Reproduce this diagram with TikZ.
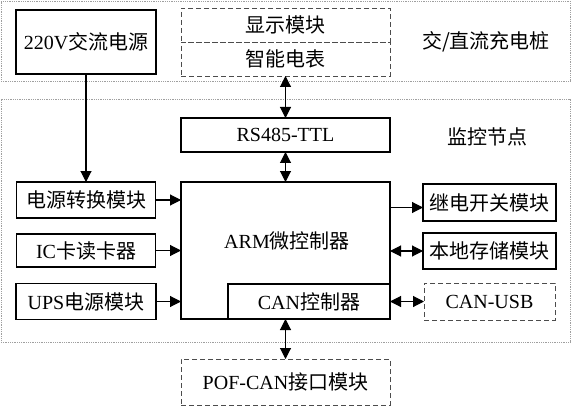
\documentclass[tikz,border=0pt]{standalone}
\usepackage{fontspec}
\setmainfont{Liberation Serif}
\newfontfamily\cjk{Noto Sans CJK SC}
\usetikzlibrary{arrows.meta}
\begin{document}
\begin{tikzpicture}[x=1pt,y=-1pt,
  every node/.style={font=\fontsize{20}{23}\selectfont, inner sep=0pt, outer sep=0pt},
  box/.style={draw, line width=1.2pt},
  dbox/.style={draw, line width=0.9pt, dash pattern=on 5pt off 3pt, gray!60!black},
  region/.style={draw, line width=0.8pt, densely dotted, gray!75},
  arr/.style={line width=1.1pt, -{Triangle[length=11pt,width=11pt]}},
  darr/.style={line width=1.1pt, {Triangle[length=11pt,width=11pt]}-{Triangle[length=11pt,width=11pt]}}]
\useasboundingbox (0,0) rectangle (572,406);
% regions
\node[region, minimum width=569pt, minimum height=80pt] (top) at (285.5,41) {};
\node[region, minimum width=569pt, minimum height=243pt] (mon) at (285.5,220.5) {};
\node (toplabel) at (486,42) {\cjk 交/直流充电桩};
\node (monlabel) at (487,137) {\cjk 监控节点};
% top boxes
\node[box, minimum width=140pt, minimum height=64pt] (src) at (86,42) {220V\cjk 交流电源};
\node[dbox, minimum width=209pt, minimum height=34pt] (disp) at (285.5,25) {\color{black}\cjk 显示模块};
\node[dbox, minimum width=209pt, minimum height=34pt] (meter) at (285.5,59) {\color{black}\cjk 智能电表};
% monitoring node
\node[box, minimum width=209pt, minimum height=34pt] (rs) at (285.5,135) {RS485-TTL};
\node[box, minimum width=209pt, minimum height=137pt] (arm) at (285.5,250.5) {};
\node (armlabel) at (287,241) {ARM\cjk 微控制器};
\node[box, minimum width=162pt, minimum height=35pt] (can) at (309,301.5) {CAN\cjk 控制器};
\node[box, minimum width=139pt, minimum height=36pt] (pwr) at (86,200) {\cjk 电源转换模块};
\node[box, minimum width=139pt, minimum height=33pt] (ic) at (86,250.5) {IC\cjk 卡读卡器};
\node[box, minimum width=140pt, minimum height=36pt] (ups) at (86,301.5) {UPS\cjk 电源模块};
\node[box, minimum width=133pt, minimum height=37pt] (relay) at (489.5,202.5) {\cjk 继电开关模块};
\node[box, minimum width=133pt, minimum height=36pt] (store) at (489.5,251) {\cjk 本地存储模块};
\node[dbox, minimum width=131pt, minimum height=37pt] (usb) at (489.5,301.5) {\color{black}CAN-USB};
\node[dbox, minimum width=209pt, minimum height=46pt] (pof) at (285.5,382) {\color{black}POF-CAN\cjk 接口模块};
% connectors
\draw[arr] (src.south) -- (src.south |- pwr.north);
\draw[darr] (meter.south) -- (rs.north);
\draw[darr] (rs.south) -- (arm.north);
\draw[arr] (pwr.east) -- (pwr.east -| arm.west);
\draw[arr] (ic.east) -- (ic.east -| arm.west);
\draw[arr] (ups.east) -- (ups.east -| arm.west);
\draw[arr] ([yshift=-5pt]relay.west -| arm.east) -- ([yshift=-5pt]relay.west);
\draw[darr] (store.west -| arm.east) -- (store.west);
\draw[darr] (can.east) -- (usb.west);
\draw[darr] (arm.south) -- (pof.north);
\end{tikzpicture}
\end{document}
